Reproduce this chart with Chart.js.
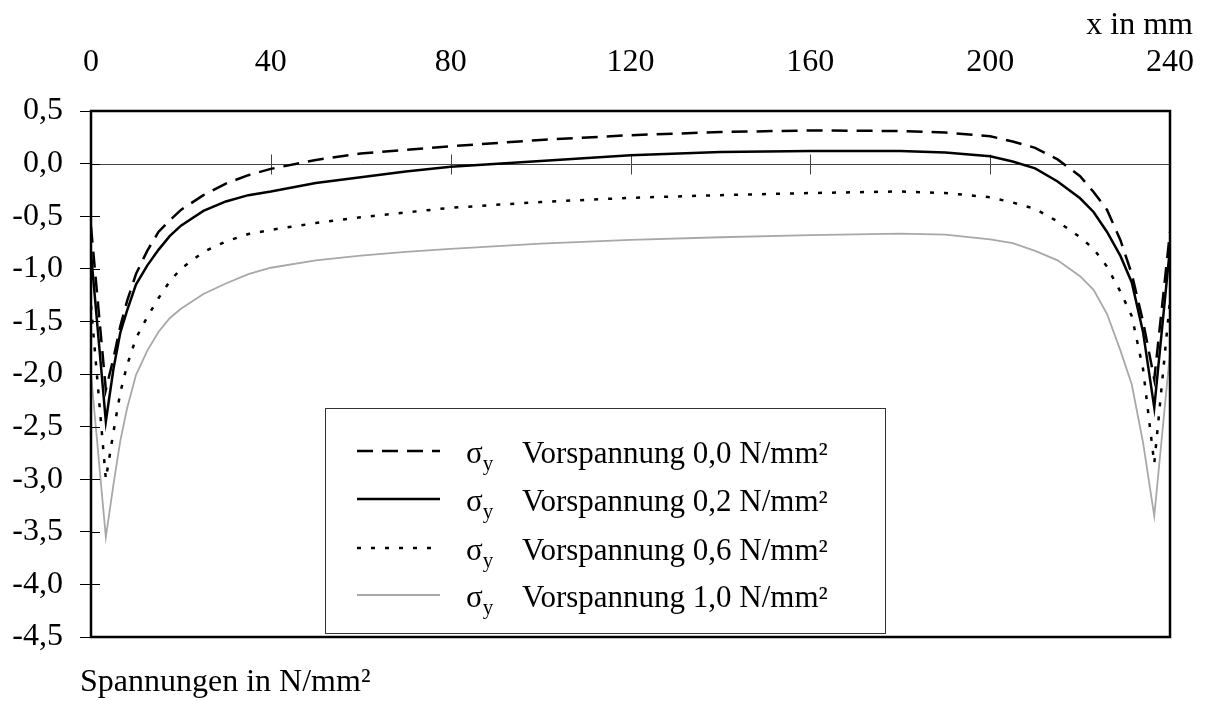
<!DOCTYPE html>
<html>
<head>
<meta charset="utf-8">
<script src="https://cdn.jsdelivr.net/npm/chart.js@4/dist/chart.umd.min.js"></script>
<style>
  html, body { margin: 0; padding: 0; background: #fff; }
  #wrap { width: 1206px; height: 701px; }
</style>
</head>
<body>
<div id="wrap"><canvas id="stressChart"></canvas></div>
<script>
// x position along the plate (mm)
const xMm = [0, 3.3, 5, 6.5, 8, 10, 12.5, 15, 17.5, 20, 25, 30, 35, 40, 50, 60, 70, 80, 100, 120, 140, 160, 180, 190, 200, 205, 210, 215, 220, 223, 226, 229, 231.5, 234, 236.5, 240];

// sigma_y in N/mm² for the four preload levels
const sigma00 = [-0.60, -2.15, -1.85, -1.55, -1.31, -1.05, -0.83, -0.65, -0.54, -0.44, -0.30, -0.19, -0.11, -0.05, 0.035, 0.095, 0.13, 0.165, 0.225, 0.27, 0.30, 0.315, 0.31, 0.295, 0.26, 0.21, 0.15, 0.04, -0.12, -0.27, -0.44, -0.73, -1.05, -1.50, -2.05, -0.65];
const sigma02 = [-0.85, -2.45, -1.95, -1.61, -1.40, -1.15, -0.97, -0.82, -0.69, -0.59, -0.45, -0.36, -0.30, -0.265, -0.185, -0.13, -0.075, -0.03, 0.025, 0.08, 0.11, 0.12, 0.12, 0.105, 0.07, 0.02, -0.045, -0.17, -0.33, -0.46, -0.65, -0.88, -1.13, -1.60, -2.32, -0.80];
const sigma06 = [-1.35, -3.00, -2.55, -2.18, -1.92, -1.66, -1.46, -1.28, -1.12, -1.00, -0.84, -0.74, -0.67, -0.63, -0.565, -0.51, -0.465, -0.42, -0.365, -0.325, -0.30, -0.28, -0.265, -0.28, -0.32, -0.37, -0.43, -0.55, -0.70, -0.81, -0.98, -1.22, -1.45, -1.95, -2.85, -1.30];
const sigma10 = [-2.00, -3.55, -3.05, -2.64, -2.33, -2.01, -1.78, -1.60, -1.47, -1.38, -1.24, -1.14, -1.05, -0.99, -0.92, -0.875, -0.84, -0.81, -0.76, -0.725, -0.70, -0.68, -0.665, -0.675, -0.72, -0.755, -0.83, -0.92, -1.07, -1.20, -1.43, -1.78, -2.10, -2.65, -3.35, -1.80];

const seriesLabels = ['Vorspannung 0,0 N/mm²', 'Vorspannung 0,2 N/mm²', 'Vorspannung 0,6 N/mm²', 'Vorspannung 1,0 N/mm²'];

const xTicks = [0, 40, 80, 120, 160, 200, 240];
const yTicks = [0.5, 0, -0.5, -1, -1.5, -2, -2.5, -3, -3.5, -4, -4.5];

const serif = "'Liberation Serif', 'Times New Roman', serif";

const toPoints = vals => vals.map((v, i) => ({ x: xMm[i], y: v }));

// zero line, tick stubs, frame
const framePlugin = {
  id: 'frame',
  beforeDatasetsDraw(chart) {
    const { ctx, chartArea: a, scales: { x, y } } = chart;
    const y0 = Math.round(y.getPixelForValue(0)) + 0.5;
    ctx.save();
    ctx.strokeStyle = '#444';
    ctx.lineWidth = 1;
    ctx.beginPath();
    ctx.moveTo(a.left, y0);
    ctx.lineTo(a.right, y0);
    xTicks.slice(1, -1).forEach(v => {
      const px = Math.round(x.getPixelForValue(v)) + 0.5;
      ctx.moveTo(px, y0 - 10);
      ctx.lineTo(px, y0 + 10);
    });
    ctx.stroke();
    ctx.restore();
  },
  afterDatasetsDraw(chart) {
    const { ctx, chartArea: a, scales: { y } } = chart;
    ctx.save();
    ctx.strokeStyle = '#000';
    ctx.lineWidth = 1;
    ctx.beginPath();
    yTicks.forEach(v => {
      const py = Math.round(y.getPixelForValue(v)) + 0.5;
      ctx.moveTo(a.left, py);
      ctx.lineTo(a.left + 9, py);
    });
    ctx.stroke();
    ctx.lineWidth = 2.5;
    ctx.strokeRect(a.left, a.top, a.right - a.left, a.bottom - a.top);
    ctx.restore();
  }
};

// boxed legend inside the plot and the two axis captions
const legendBoxPlugin = {
  id: 'legendBox',
  afterDraw(chart) {
    const { ctx, chartArea: a } = chart;
    const box = { left: 325, top: 408, right: 885, bottom: 633 };
    ctx.save();
    ctx.fillStyle = '#fff';
    ctx.fillRect(box.left, box.top, box.right - box.left, box.bottom - box.top);
    ctx.strokeStyle = '#333';
    ctx.lineWidth = 1;
    ctx.strokeRect(box.left + 0.5, box.top + 0.5, box.right - box.left, box.bottom - box.top);

    const rows = [451, 499, 548, 595];
    chart.data.datasets.forEach((ds, i) => {
      const ry = rows[i];
      ctx.strokeStyle = ds.borderColor;
      ctx.lineWidth = ds.borderWidth;
      ctx.setLineDash(ds.borderDash || []);
      ctx.beginPath();
      ctx.moveTo(357, ry);
      ctx.lineTo(440, ry);
      ctx.stroke();
      ctx.setLineDash([]);

      ctx.fillStyle = '#000';
      ctx.textBaseline = 'alphabetic';
      ctx.textAlign = 'left';
      const base = ry + 12;
      ctx.font = '31px ' + serif;
      ctx.fillText('σ', 466, base);
      const sx = 466 + ctx.measureText('σ').width;
      ctx.font = '21px ' + serif;
      ctx.fillText('y', sx, base + 7);
      ctx.font = '31px ' + serif;
      ctx.fillText(ds.label, 522, base);
    });

    ctx.font = '32px ' + serif;
    ctx.textAlign = 'right';
    ctx.fillText('x in mm', a.right + 23, 34);
    ctx.textAlign = 'left';
    ctx.fillText('Spannungen in N/mm²', a.left - 11, 691);
    ctx.restore();
  }
};

const ctx = document.getElementById('stressChart').getContext('2d');
new Chart(ctx, {
  type: 'line',
  data: {
    datasets: [
      { label: seriesLabels[0], data: toPoints(sigma00), borderColor: '#000', borderWidth: 2.5, borderDash: [16, 9] },
      { label: seriesLabels[1], data: toPoints(sigma02), borderColor: '#000', borderWidth: 2.5 },
      { label: seriesLabels[2], data: toPoints(sigma06), borderColor: '#000', borderWidth: 2.5, borderDash: [4, 10] },
      { label: seriesLabels[3], data: toPoints(sigma10), borderColor: '#a8a8a8', borderWidth: 1.8 }
    ]
  },
  options: {
    responsive: true,
    maintainAspectRatio: false,
    animation: false,
    layout: { padding: { top: 0, left: 0, right: 36, bottom: 64 } },
    elements: { point: { radius: 0 }, line: { tension: 0, fill: false } },
    plugins: { legend: { display: false }, tooltip: { enabled: false } },
    scales: {
      x: {
        type: 'linear',
        position: 'top',
        min: 0,
        max: 240,
        afterBuildTicks: s => { s.ticks = xTicks.map(v => ({ value: v })); },
        afterFit: s => { s.height = 111; s.paddingLeft = 0; s.paddingRight = 0; },
        grid: { display: false, drawTicks: false },
        border: { display: false },
        ticks: {
          color: '#000',
          font: { family: serif, size: 32 },
          padding: 29,
          maxRotation: 0,
          autoSkip: false
        }
      },
      y: {
        type: 'linear',
        min: -4.5,
        max: 0.5,
        afterBuildTicks: s => { s.ticks = yTicks.map(v => ({ value: v })); },
        afterFit: s => { s.width = 91; s.paddingTop = 0; s.paddingBottom = 0; },
        grid: { drawOnChartArea: false, drawTicks: true, tickLength: 11, color: '#000', lineWidth: 1 },
        border: { display: false },
        ticks: {
          color: '#000',
          font: { family: serif, size: 32 },
          padding: 17,
          callback: v => v.toFixed(1).replace('.', ',')
        }
      }
    }
  },
  plugins: [framePlugin, legendBoxPlugin]
});
</script>
</body>
</html>
